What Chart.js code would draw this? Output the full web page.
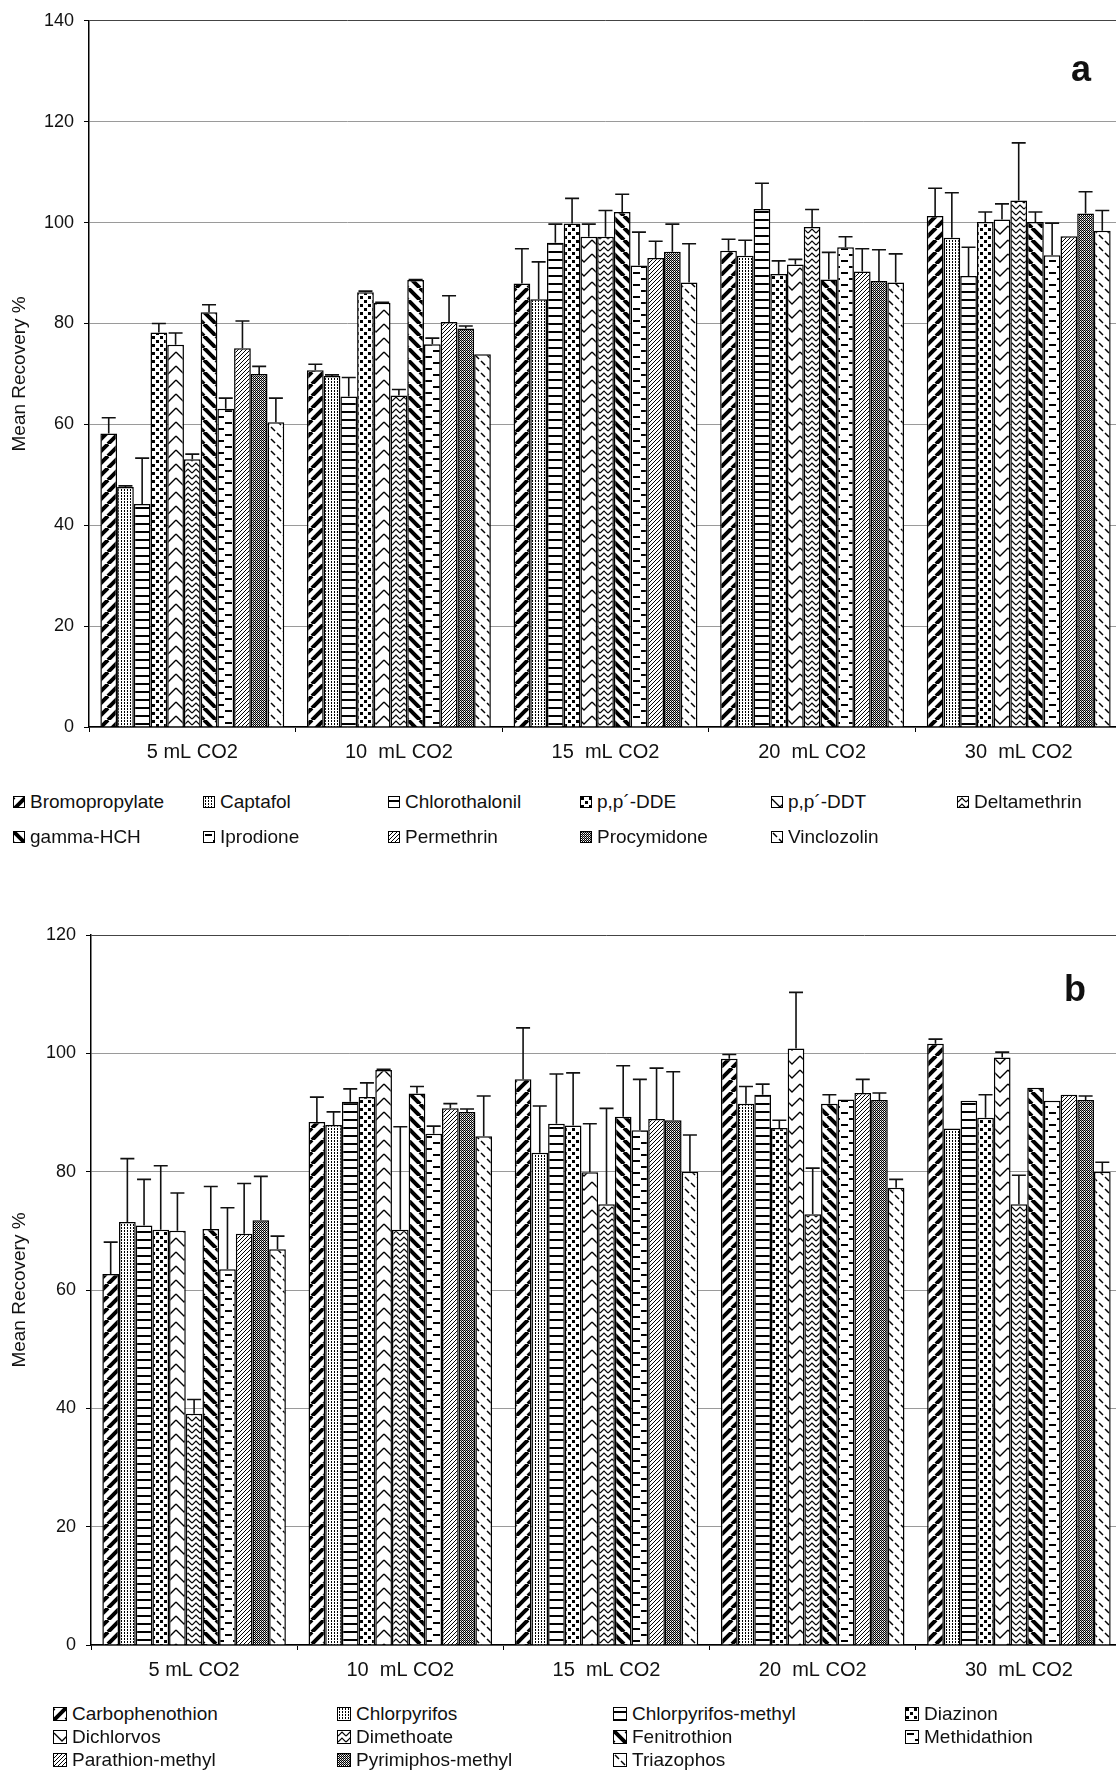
<!DOCTYPE html>
<html lang="en">
<head>
<meta charset="UTF-8">
<title>Mean Recovery</title>
<script src="https://cdn.jsdelivr.net/npm/chart.js"></script>
<style>
    html, body { margin: 0; padding: 0; background: #fff; width: 1116px; height: 1771px; overflow: hidden; }
    body { position: relative; font-family: "Liberation Sans", Arial, sans-serif; color: #111; }
    .box { position: absolute; left: 0; }
    #boxA { top: 0; }
    #boxB { top: 900px; }
    .panel { position: absolute; font-weight: bold; font-size: 36px; line-height: 36px; }
    .legend { position: absolute; display: grid; font-size: 19px; }
    #legendA { left: 13px; top: 784px; grid-template-columns: 190px 185px 192px 191px 186px 170px; grid-auto-rows: 35px; }
    #legendB { left: 53px; top: 1702px; grid-template-columns: 284px 276px 292px 200px; grid-auto-rows: 23px; }
    .item { display: flex; align-items: center; white-space: nowrap; }
    .item canvas { border: 1px solid #000; margin-right: 5px; box-sizing: border-box; }
</style>
</head>
<body>

<div class="box" id="boxA"><canvas id="chartA" width="1124" height="780"></canvas></div>
<div class="panel" style="left:1071px; top:51px;">a</div>
<div class="legend" id="legendA"></div>

<div class="box" id="boxB"><canvas id="chartB" width="1124" height="798"></canvas></div>
<div class="panel" style="left:1064px; top:971px;">b</div>
<div class="legend" id="legendB"></div>

<script>
// categories
const categories = ['5 mL CO2', '10  mL CO2', '15  mL CO2', '20  mL CO2', '30  mL CO2'];

// panel a - series names, means and upper error (SD)
const namesA = ['Bromopropylate', 'Captafol', 'Chlorothalonil', 'p,p´-DDE', 'p,p´-DDT', 'Deltamethrin',
    'gamma-HCH', 'Iprodione', 'Permethrin', 'Procymidone', 'Vinclozolin'];
const bromopropylate   = [58.2, 70.7, 87.9, 94.4, 101.3];
const bromopropylateSD = [3.1, 1.2, 6.9, 2.3, 5.5];
const captafol         = [47.6, 69.6, 84.8, 93.4, 97.0];
const captafolSD       = [0.2, 0.2, 7.4, 3.1, 8.9];
const chlorothalonil   = [44.2, 65.5, 96.0, 102.7, 89.4];
const chlorothalonilSD = [9.1, 3.8, 3.7, 5.1, 5.7];
const ppDDE            = [78.2, 86.2, 99.8, 89.8, 100.1];
const ppDDESD          = [1.8, 0.2, 5.0, 2.6, 2.0];
const ppDDT            = [75.8, 84.1, 97.2, 91.7, 100.6];
const ppDDTSD          = [2.3, 0.1, 2.5, 1.0, 3.1];
const deltamethrin     = [53.1, 65.7, 97.2, 99.1, 104.4];
const deltamethrinSD   = [1.0, 1.2, 5.2, 3.5, 11.4];
const gammaHCH         = [82.2, 88.6, 102.1, 88.7, 100.1];
const gammaHCHSD       = [1.5, 0.1, 3.5, 5.4, 2.0];
const iprodione        = [63.1, 75.9, 91.5, 95.1, 93.5];
const iprodioneSD      = [2.1, 1.2, 6.6, 2.1, 6.4];
const permethrin       = [75.1, 80.3, 93.0, 90.3, 97.3];
const permethrinSD     = [5.4, 5.2, 3.3, 4.5, 0];
const procymidone      = [70.0, 79.0, 94.2, 88.4, 101.8];
const procymidoneSD    = [1.5, 0.5, 5.5, 6.2, 4.3];
const vinclozolin      = [60.4, 73.9, 88.1, 88.1, 98.4];
const vinclozolinSD    = [4.8, 0, 7.7, 5.7, 4.0];

// panel b
const namesB = ['Carbophenothion', 'Chlorpyrifos', 'Chlorpyrifos-methyl', 'Diazinon', 'Dichlorvos', 'Dimethoate',
    'Fenitrothion', 'Methidathion', 'Parathion-methyl', 'Pyrimiphos-methyl', 'Triazophos'];
const carbophenothion     = [62.7, 88.4, 95.6, 99.1, 101.6];
const carbophenothionSD   = [5.4, 4.2, 8.7, 0.7, 0.8];
const chlorpyrifos        = [71.5, 87.9, 83.2, 91.5, 87.3];
const chlorpyrifosSD      = [10.7, 2.2, 7.9, 2.9, 0];
const chlorpyrifosMethyl  = [70.9, 91.8, 88.1, 93.0, 92.0];
const chlorpyrifosMethylSD = [7.8, 2.2, 8.4, 1.8, 0];
const diazinon            = [70.2, 92.6, 87.8, 87.4, 89.1];
const diazinonSD          = [10.8, 2.4, 8.9, 1.3, 3.9];
const dichlorvos          = [70.0, 97.2, 79.9, 100.8, 99.3];
const dichlorvosSD        = [6.4, 0.1, 8.2, 9.5, 0.9];
const dimethoate          = [39.1, 70.2, 74.5, 72.8, 74.5];
const dimethoateSD        = [2.4, 17.4, 16.2, 7.8, 4.9];
const fenitrothion        = [70.3, 93.2, 89.3, 91.5, 94.2];
const fenitrothionSD      = [7.2, 1.2, 8.6, 1.5, 0];
const methidathion        = [63.5, 86.4, 87.0, 92.2, 92.0];
const methidathionSD      = [10.4, 1.3, 8.6, 0, 0];
const parathionMethyl     = [69.5, 90.7, 88.9, 93.3, 93.0];
const parathionMethylSD   = [8.5, 0.8, 8.6, 2.3, 0];
const pyrimiphosMethyl    = [71.8, 90.1, 88.7, 92.1, 92.1];
const pyrimiphosMethylSD  = [7.4, 0.5, 8.2, 1.2, 0.7];
const triazophos          = [66.9, 86.0, 80.0, 77.3, 80.0];
const triazophosSD        = [2.2, 6.8, 6.2, 1.4, 1.6];

// y ticks
const ticksA = [0, 20, 40, 60, 80, 100, 120, 140];
const ticksB = [0, 20, 40, 60, 80, 100, 120];

const meansA = [bromopropylate, captafol, chlorothalonil, ppDDE, ppDDT, deltamethrin, gammaHCH, iprodione, permethrin, procymidone, vinclozolin];
const sdsA = [bromopropylateSD, captafolSD, chlorothalonilSD, ppDDESD, ppDDTSD, deltamethrinSD, gammaHCHSD, iprodioneSD, permethrinSD, procymidoneSD, vinclozolinSD];
const meansB = [carbophenothion, chlorpyrifos, chlorpyrifosMethyl, diazinon, dichlorvos, dimethoate, fenitrothion, methidathion, parathionMethyl, pyrimiphosMethyl, triazophos];
const sdsB = [carbophenothionSD, chlorpyrifosSD, chlorpyrifosMethylSD, diazinonSD, dichlorvosSD, dimethoateSD, fenitrothionSD, methidathionSD, parathionMethylSD, pyrimiphosMethylSD, triazophosSD];

// Excel-like fill patterns, same order in both panels
function tile(w, h, draw) {
    const c = document.createElement('canvas');
    c.width = w; c.height = h;
    const g = c.getContext('2d');
    g.fillStyle = '#fff';
    g.fillRect(0, 0, w, h);
    g.fillStyle = '#000';
    g.strokeStyle = '#000';
    draw(g, w, h);
    return c;
}

const tiles = [
    // thick /
    () => tile(12, 12, (g, s) => { g.lineWidth = 4; g.beginPath(); for (const k of [-s, 0, s]) { g.moveTo(k, s); g.lineTo(k + s, 0); } g.stroke(); }),
    // fine dots
    () => tile(3, 3, g => { g.fillRect(1, 1, 1, 1); g.fillRect(1, 0, 1, 1); }),
    // horizontal
    () => tile(8, 8, g => { g.fillRect(0, 3, 8, 2); }),
    // large dots
    () => tile(8, 8, g => { g.fillRect(0, 0, 3, 3); g.fillRect(4, 4, 3, 3); }),
    // big chevrons
    () => tile(16, 14, g => { g.lineWidth = 1.3; g.beginPath(); g.moveTo(0, 2); g.lineTo(8, 10); g.lineTo(16, 2); g.stroke(); }),
    // small zigzag
    () => tile(8, 6, g => { g.lineWidth = 1.2; g.beginPath(); g.moveTo(0, 5); g.lineTo(4, 1); g.lineTo(8, 5); g.stroke(); }),
    // thick \
    () => tile(12, 12, (g, s) => { g.lineWidth = 4; g.beginPath(); for (const k of [-s, 0, s]) { g.moveTo(k, 0); g.lineTo(k + s, s); } g.stroke(); }),
    // dashed horizontal
    () => tile(16, 12, g => { g.fillRect(1, 2, 7, 2); g.fillRect(9, 8, 7, 2); }),
    // fine /
    () => tile(4, 4, (g, s) => { g.lineWidth = 1; g.beginPath(); for (const k of [-s, 0, s]) { g.moveTo(k, s); g.lineTo(k + s, 0); } g.stroke(); }),
    // checker, mid-dark
    () => tile(2, 2, g => { g.fillRect(0, 0, 1, 1); g.fillRect(1, 1, 1, 1); g.fillStyle = 'rgba(0,0,0,0.35)'; g.fillRect(1, 0, 1, 1); }),
    // dashed \
    () => tile(12, 12, g => { g.lineWidth = 1.5; g.beginPath(); g.moveTo(1, 1); g.lineTo(5, 5); g.moveTo(7, 7); g.lineTo(11, 11); g.stroke(); })
];

const errorBars = {
    id: 'errorBars',
    afterDatasetsDraw(chart) {
        const ctx = chart.ctx;
        const y = chart.scales.y;
        ctx.save();
        ctx.strokeStyle = '#111';
        ctx.lineWidth = 1.6;
        chart.data.datasets.forEach((ds, i) => {
            chart.getDatasetMeta(i).data.forEach((bar, j) => {
                const sd = ds.sd[j];
                if (!sd) return;
                const top = y.getPixelForValue(ds.data[j] + sd);
                ctx.beginPath();
                ctx.moveTo(bar.x, bar.y);
                ctx.lineTo(bar.x, top);
                ctx.moveTo(bar.x - 7, top);
                ctx.lineTo(bar.x + 7, top);
                ctx.stroke();
            });
        });
        ctx.restore();
    }
};

function makeChart(id, names, means, sds, ticks, opts) {
    const ctx = document.getElementById(id).getContext('2d');
    const datasets = names.map((n, i) => ({
        label: n,
        data: means[i],
        sd: sds[i],
        backgroundColor: ctx.createPattern(tiles[i](), 'repeat'),
        borderColor: '#000',
        borderWidth: 1.5,
        categoryPercentage: 0.89,
        barPercentage: 1.0
    }));
    const max = ticks[ticks.length - 1];
    return new Chart(ctx, {
        type: 'bar',
        data: { labels: categories, datasets: datasets },
        plugins: [errorBars],
        options: {
            responsive: false,
            animation: false,
            devicePixelRatio: 1,
            layout: { padding: { top: opts.top, right: 2, left: 0, bottom: 0 } },
            plugins: { legend: { display: false }, tooltip: { enabled: false } },
            scales: {
                x: {
                    afterFit: s => { s.height = 53; },
                    grid: { drawOnChartArea: false, drawTicks: true, tickLength: 5, offset: true, tickColor: '#000' },
                    border: { color: '#000', width: 1.5 },
                    ticks: { color: '#111', font: { family: '"Liberation Sans", Arial', size: 20 }, padding: 8, maxRotation: 0 }
                },
                y: {
                    min: 0,
                    max: max,
                    afterFit: s => { s.width = opts.axisW; },
                    afterBuildTicks: s => { s.ticks = ticks.map(v => ({ value: v })); },
                    grid: {
                        color: c => c.tick && c.tick.value === max ? '#444' : '#9a9a9a',
                        lineWidth: 1,
                        tickLength: 5,
                        tickColor: '#000'
                    },
                    border: { color: '#000', width: 1.5 },
                    ticks: { color: '#111', font: { family: '"Liberation Sans", Arial', size: 18 }, padding: 10 },
                    title: {
                        display: true,
                        text: 'Mean Recovery %',
                        color: '#111',
                        font: { family: '"Liberation Sans", Arial', size: 19 },
                        padding: { top: 8, bottom: 0 }
                    }
                }
            }
        }
    });
}

function makeLegend(id, names, size) {
    const box = document.getElementById(id);
    names.forEach((n, i) => {
        const item = document.createElement('div');
        item.className = 'item';
        const sw = document.createElement('canvas');
        sw.width = size; sw.height = size;
        const g = sw.getContext('2d');
        g.fillStyle = g.createPattern(tiles[i](), 'repeat');
        g.fillRect(0, 0, size, size);
        const t = document.createElement('span');
        t.textContent = n;
        item.appendChild(sw);
        item.appendChild(t);
        box.appendChild(item);
    });
}

makeChart('chartA', namesA, meansA, sdsA, ticksA, { top: 17, axisW: 89 });
makeChart('chartB', namesB, meansB, sdsB, ticksB, { top: 35, axisW: 91 });
makeLegend('legendA', namesA, 10);
makeLegend('legendB', namesB, 12);
</script>
</body>
</html>
